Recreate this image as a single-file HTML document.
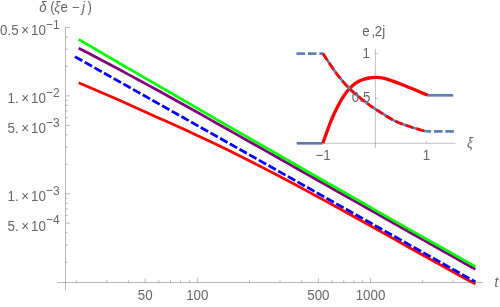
<!DOCTYPE html>
<html><head><meta charset="utf-8"><title>plot</title>
<style>
html,body{margin:0;padding:0;background:#fff;}
body{width:500px;height:307px;overflow:hidden;}
svg{display:block;will-change:transform;}
text{font-family:"Liberation Sans",sans-serif;fill:#666666;}
.it{font-style:italic;}
</style></head><body>
<svg width="500" height="307" viewBox="0 0 500 307">
<rect width="500" height="307" fill="#ffffff"/>
<g fill="none" stroke-width="2.75" stroke-linejoin="round">
<path stroke="#ff0000" d="M78.70,82.85 L88.62,86.99 L98.53,91.21 L108.45,95.49 L118.37,99.85 L128.29,104.27 L138.20,108.72 L148.12,113.19 L158.04,117.66 L167.96,122.11 L177.88,126.58 L187.79,131.08 L197.71,135.65 L207.63,140.29 L217.55,145.03 L227.46,149.86 L237.38,154.76 L247.30,159.75 L257.21,164.79 L267.13,169.90 L277.05,175.07 L286.97,180.28 L296.88,185.55 L306.80,190.86 L316.72,196.22 L326.64,201.62 L336.55,207.06 L346.47,212.52 L356.39,218.02 L366.31,223.54 L376.22,229.07 L386.14,234.62 L396.06,240.17 L405.98,245.73 L415.89,251.28 L425.81,256.81 L435.73,262.33 L445.65,267.82 L455.56,273.27 L465.48,278.68 L475.40,284.04"/>
<path stroke="#0000ff" stroke-dasharray="8.4 2.7" d="M75.00,56.70 L108.37,75.47 L141.73,94.23 L175.10,113.00 L208.47,131.77 L241.83,150.53 L275.20,169.30 L308.57,188.07 L341.93,206.83 L375.30,225.60 L408.67,244.37 L442.03,263.13 L475.40,281.90"/>
<path stroke="#800080" d="M78.70,48.20 L88.62,53.33 L98.53,58.51 L108.45,63.74 L118.37,69.02 L128.29,74.35 L138.20,79.72 L148.12,85.12 L158.04,90.56 L167.96,96.03 L177.88,101.53 L187.79,107.04 L197.71,112.57 L207.63,118.12 L217.55,123.69 L227.46,129.26 L237.38,134.85 L247.30,140.44 L257.21,146.04 L267.13,151.64 L277.05,157.25 L286.97,162.86 L296.88,168.48 L306.80,174.09 L316.72,179.71 L326.64,185.32 L336.55,190.94 L346.47,196.55 L356.39,202.16 L366.31,207.77 L376.22,213.38 L386.14,218.99 L396.06,224.59 L405.98,230.20 L415.89,235.80 L425.81,241.39 L435.73,246.98 L445.65,252.57 L455.56,258.15 L465.48,263.72 L475.40,269.26"/>
<path stroke="#00ff00" d="M78.70,39.40 L111.76,58.69 L144.82,77.87 L177.88,97.00 L210.93,116.07 L243.99,135.09 L277.05,154.05 L310.11,172.95 L343.17,191.80 L376.22,210.60 L409.28,229.34 L442.34,248.02 L475.40,266.60"/>
</g>
<g stroke="#666666" stroke-width="0.46" fill="none">
<line x1="57" y1="282.50" x2="483" y2="282.50"/>
<line x1="65.50" y1="26.6" x2="65.50" y2="290"/>
<line x1="145.20" y1="282.50" x2="145.20" y2="278.20"/>
<line x1="197.34" y1="282.50" x2="197.34" y2="278.20"/>
<line x1="318.40" y1="282.50" x2="318.40" y2="278.20"/>
<line x1="370.54" y1="282.50" x2="370.54" y2="278.20"/>
<line x1="76.28" y1="282.50" x2="76.28" y2="280.20"/>
<line x1="106.78" y1="282.50" x2="106.78" y2="280.20"/>
<line x1="128.42" y1="282.50" x2="128.42" y2="280.20"/>
<line x1="158.91" y1="282.50" x2="158.91" y2="280.20"/>
<line x1="170.51" y1="282.50" x2="170.51" y2="280.20"/>
<line x1="180.55" y1="282.50" x2="180.55" y2="280.20"/>
<line x1="189.41" y1="282.50" x2="189.41" y2="280.20"/>
<line x1="249.48" y1="282.50" x2="249.48" y2="280.20"/>
<line x1="279.98" y1="282.50" x2="279.98" y2="280.20"/>
<line x1="301.62" y1="282.50" x2="301.62" y2="280.20"/>
<line x1="332.11" y1="282.50" x2="332.11" y2="280.20"/>
<line x1="343.71" y1="282.50" x2="343.71" y2="280.20"/>
<line x1="353.75" y1="282.50" x2="353.75" y2="280.20"/>
<line x1="362.61" y1="282.50" x2="362.61" y2="280.20"/>
<line x1="422.68" y1="282.50" x2="422.68" y2="280.20"/>
<line x1="453.18" y1="282.50" x2="453.18" y2="280.20"/>
<line x1="474.82" y1="282.50" x2="474.82" y2="280.20"/>
<line x1="65.50" y1="27.47" x2="69.80" y2="27.47"/>
<line x1="65.50" y1="95.90" x2="69.80" y2="95.90"/>
<line x1="65.50" y1="125.37" x2="69.80" y2="125.37"/>
<line x1="65.50" y1="193.80" x2="69.80" y2="193.80"/>
<line x1="65.50" y1="223.27" x2="69.80" y2="223.27"/>
<line x1="65.50" y1="36.96" x2="67.80" y2="36.96"/>
<line x1="65.50" y1="49.19" x2="67.80" y2="49.19"/>
<line x1="65.50" y1="66.43" x2="67.80" y2="66.43"/>
<line x1="65.50" y1="100.38" x2="67.80" y2="100.38"/>
<line x1="65.50" y1="105.39" x2="67.80" y2="105.39"/>
<line x1="65.50" y1="111.06" x2="67.80" y2="111.06"/>
<line x1="65.50" y1="117.62" x2="67.80" y2="117.62"/>
<line x1="65.50" y1="134.86" x2="67.80" y2="134.86"/>
<line x1="65.50" y1="147.09" x2="67.80" y2="147.09"/>
<line x1="65.50" y1="164.33" x2="67.80" y2="164.33"/>
<line x1="65.50" y1="198.28" x2="67.80" y2="198.28"/>
<line x1="65.50" y1="203.29" x2="67.80" y2="203.29"/>
<line x1="65.50" y1="208.96" x2="67.80" y2="208.96"/>
<line x1="65.50" y1="215.52" x2="67.80" y2="215.52"/>
<line x1="65.50" y1="232.76" x2="67.80" y2="232.76"/>
<line x1="65.50" y1="244.99" x2="67.80" y2="244.99"/>
<line x1="65.50" y1="262.23" x2="67.80" y2="262.23"/>
</g>
<text transform="translate(0,299.80) scale(1,1.08)" font-size="13.33"><tspan x="145.2" text-anchor="middle">50</tspan></text>
<text transform="translate(0,299.80) scale(1,1.08)" font-size="13.33"><tspan x="197.3" text-anchor="middle">100</tspan></text>
<text transform="translate(0,299.80) scale(1,1.08)" font-size="13.33"><tspan x="318.4" text-anchor="middle">500</tspan></text>
<text transform="translate(0,299.80) scale(1,1.08)" font-size="13.33"><tspan x="370.5" text-anchor="middle">1000</tspan></text>
<text transform="translate(0,34.87) scale(1,1.08)" font-size="13.33"><tspan x="18.6" text-anchor="end">0.5</tspan><tspan x="25.1" text-anchor="middle">×</tspan><tspan x="45.8" text-anchor="end">10</tspan></text>
<text transform="translate(0,28.67) scale(1,1.08)" font-size="12.00"><tspan x="46.0">−1</tspan></text>
<text transform="translate(0,103.30) scale(1,1.08)" font-size="13.33"><tspan x="18.6" text-anchor="end">1.</tspan><tspan x="25.1" text-anchor="middle">×</tspan><tspan x="45.8" text-anchor="end">10</tspan></text>
<text transform="translate(0,97.10) scale(1,1.08)" font-size="12.00"><tspan x="46.0">−2</tspan></text>
<text transform="translate(0,132.77) scale(1,1.08)" font-size="13.33"><tspan x="18.6" text-anchor="end">5.</tspan><tspan x="25.1" text-anchor="middle">×</tspan><tspan x="45.8" text-anchor="end">10</tspan></text>
<text transform="translate(0,126.57) scale(1,1.08)" font-size="12.00"><tspan x="46.0">−3</tspan></text>
<text transform="translate(0,201.20) scale(1,1.08)" font-size="13.33"><tspan x="18.6" text-anchor="end">1.</tspan><tspan x="25.1" text-anchor="middle">×</tspan><tspan x="45.8" text-anchor="end">10</tspan></text>
<text transform="translate(0,195.00) scale(1,1.08)" font-size="12.00"><tspan x="46.0">−3</tspan></text>
<text transform="translate(0,230.67) scale(1,1.08)" font-size="13.33"><tspan x="18.6" text-anchor="end">5.</tspan><tspan x="25.1" text-anchor="middle">×</tspan><tspan x="45.8" text-anchor="end">10</tspan></text>
<text transform="translate(0,224.47) scale(1,1.08)" font-size="12.00"><tspan x="46.0">−4</tspan></text>
<text transform="translate(0,12.30) scale(1,1.08)" font-size="13.33"><tspan x="39.2" class="it">δ</tspan><tspan x="50.2">(</tspan><tspan x="54.3" class="it">ξ</tspan><tspan x="60.6">e</tspan><tspan x="71.8">−</tspan><tspan x="82.0" class="it">j</tspan><tspan x="87.5">)</tspan></text>
<text transform="translate(0,286.70) scale(1,1.08)" font-size="13.33"><tspan x="494.6" class="it">t</tspan></text>
<g fill="none" stroke-width="2.75">
<path stroke="#5e81b5" d="M296.9,143.30 L322.5,143.30"/>
<path stroke="#5e81b5" d="M427.6,95.3 L453.2,95.3"/>
<path stroke="#ff0000" stroke-width="3.3" d="M322.80,143.30 C323.42,141.58 325.30,136.30 326.50,133.00 C327.70,129.70 328.75,126.67 330.00,123.50 C331.25,120.33 332.58,117.08 334.00,114.00 C335.42,110.92 337.00,107.80 338.50,105.00 C340.00,102.20 341.42,99.67 343.00,97.20 C344.58,94.73 346.33,92.20 348.00,90.20 C349.67,88.20 351.33,86.60 353.00,85.20 C354.67,83.80 356.33,82.75 358.00,81.80 C359.67,80.85 361.17,80.13 363.00,79.50 C364.83,78.87 367.00,78.35 369.00,78.00 C371.00,77.65 373.17,77.45 375.00,77.40 C376.83,77.35 378.33,77.50 380.00,77.70 C381.67,77.90 383.33,78.20 385.00,78.60 C386.67,79.00 388.33,79.55 390.00,80.10 C391.67,80.65 393.33,81.28 395.00,81.90 C396.67,82.52 398.33,83.15 400.00,83.80 C401.67,84.45 403.33,85.13 405.00,85.80 C406.67,86.47 407.50,86.78 410.00,87.80 C412.50,88.82 417.03,90.65 420.00,91.90 C422.97,93.15 426.50,94.73 427.80,95.30"/>
<path stroke="#5e81b5" stroke-dasharray="8.6 2.8" d="M296.5,53.6 L323.4,53.6"/>
<path stroke="#5e81b5" d="M323.00,53.60 C323.72,54.70 324.87,56.63 327.30,60.20 C329.73,63.77 333.93,70.30 337.60,75.00 C341.27,79.70 344.90,84.07 349.30,88.40 C353.70,92.73 359.60,97.52 364.00,101.00 C368.40,104.48 370.82,106.12 375.70,109.30 C380.58,112.48 387.92,117.32 393.30,120.10 C398.68,122.88 403.12,124.27 408.00,126.00 C412.88,127.73 419.43,129.62 422.60,130.50"/>
<path stroke="#5e81b5" stroke-dasharray="8.6 2.8" d="M422.6,130.5 Q425,131.2 427.4,131.3 L453.8,131.3"/>
<path stroke="#ff0000" stroke-dasharray="7.95 3.2" d="M323.00,53.60 C323.72,54.70 324.87,56.63 327.30,60.20 C329.73,63.77 333.93,70.30 337.60,75.00 C341.27,79.70 344.90,84.07 349.30,88.40 C353.70,92.73 359.60,97.52 364.00,101.00 C368.40,104.48 370.82,106.12 375.70,109.30 C380.58,112.48 387.92,117.32 393.30,120.10 C398.68,122.88 403.12,124.27 408.00,126.00 C412.88,127.73 419.43,129.62 422.60,130.50 C425.77,131.38 426.27,131.17 427.00,131.30"/>
</g>
<g stroke="#666666" stroke-width="0.4" fill="none">
<line x1="295.6" y1="143.30" x2="455.4" y2="143.30"/>
<line x1="375.40" y1="48.9" x2="375.40" y2="148"/>
<line x1="324.40" y1="143.30" x2="324.40" y2="141.00"/>
<line x1="426.40" y1="143.30" x2="426.40" y2="141.00"/>
<line x1="375.40" y1="98.45" x2="377.70" y2="98.45"/>
<line x1="375.40" y1="53.60" x2="377.70" y2="53.60"/>
</g>
<text transform="translate(0,159.80) scale(1,1.08)" font-size="13.33"><tspan x="323.0" text-anchor="middle">−1</tspan></text>
<text transform="translate(0,160.00) scale(1,1.08)" font-size="13.33"><tspan x="426.5" text-anchor="middle">1</tspan></text>
<text transform="translate(0,102.00) scale(1,1.08)" font-size="13.33"><tspan x="370.4" text-anchor="end">0.5</tspan></text>
<text transform="translate(0,57.50) scale(1,1.08)" font-size="13.33"><tspan x="369.8" text-anchor="end">1</tspan></text>
<text transform="translate(0,35.60) scale(1,1.08)" font-size="13.33"><tspan x="362.3">e</tspan><tspan x="371.5">,</tspan><tspan x="374.8">2j</tspan></text>
<text transform="translate(0,148.00) scale(1,1.08)" font-size="13.33"><tspan x="467.0" class="it">ξ</tspan></text>
</svg>
</body></html>
